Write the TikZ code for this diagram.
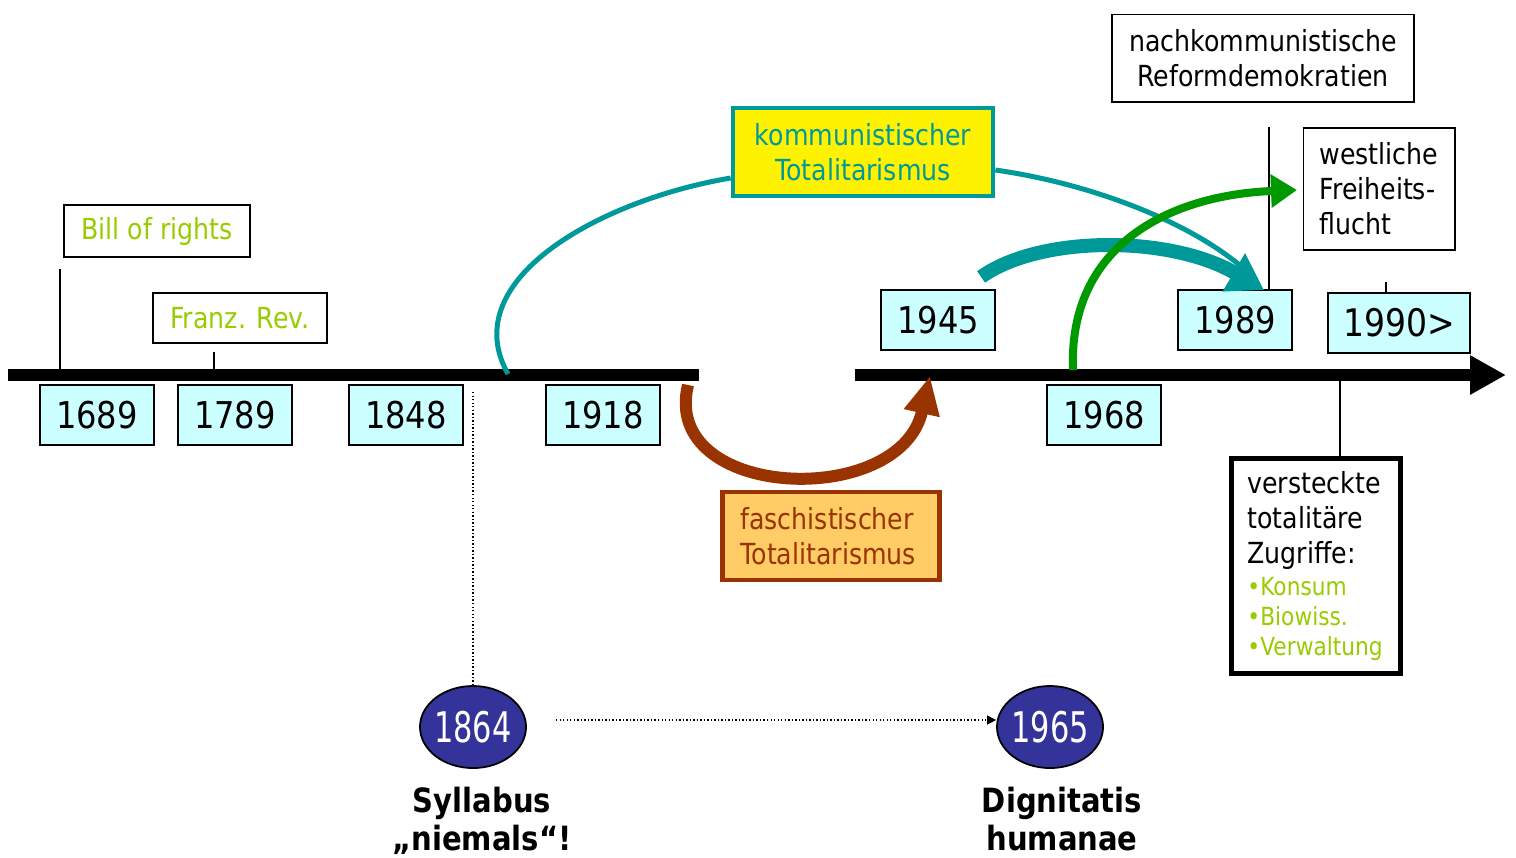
\documentclass[tikz,border=0pt]{standalone}
\usepackage{fontspec}
\setmainfont{DejaVu Sans}[FakeStretch=0.87]
\newfontfamily\narrowfont{DejaVu Sans}[FakeStretch=0.72]
\usepackage{tikz}
\usetikzlibrary{arrows.meta,shapes.geometric}

\definecolor{yearcyan}{HTML}{CCFFFF}
\definecolor{labelgreen}{HTML}{99CC00}
\definecolor{komteal}{HTML}{009999}
\definecolor{rust}{HTML}{993300}
\definecolor{apricot}{HTML}{FFCC66}
\definecolor{leafgreen}{HTML}{009900}
\definecolor{navyblue}{HTML}{333399}

\tikzset{
  axis/.style={line width=0.115cm},
  yearbox/.style={draw, line width=0.6pt, fill=yearcyan, minimum width=1.14cm,
    minimum height=0.6cm, inner sep=0pt, font=\fontsize{10.5}{12}\selectfont},
  labelbox/.style={draw, line width=0.55pt, fill=white, inner sep=0pt,
    align=center, font=\fontsize{8.25}{9.96}\selectfont},
  yearcirc/.style={ellipse, draw, line width=0.5pt, fill=navyblue, text=white,
    minimum width=1.06cm, minimum height=0.82cm, inner sep=0pt,
    font=\narrowfont\fontsize{12}{13}\selectfont},
  caption/.style={align=center, font=\fontsize{9.5}{10.8}\selectfont\bfseries},
  tick/.style={line width=0.5pt},
  finedots/.style={line width=0.4pt, dash pattern=on 0.4pt off 0.6pt}
}

\begin{document}
\begin{tikzpicture}[x=0.01cm, y=-0.01cm]
    \useasboundingbox (0,0) rectangle (1516,857);

    % Time axis
    \draw[axis] (8,375) -- (699,375);
    \draw[axis, -{Triangle[length=0.36cm, width=0.37cm]}] (855,375) -- (1506,375);

    % Years below the axis
    \node[yearbox] (y1689) at (97,415) {1689};
    \node[yearbox] (y1789) at (235,415) {1789};
    \node[yearbox] (y1848) at (406,415) {1848};
    \node[yearbox] (y1918) at (603,415) {1918};
    \node[yearbox] (y1968) at (1104,415) {1968};

    % Years above the axis
    \node[yearbox] (y1945) at (938,320) {1945};
    \node[yearbox] (y1989) at (1235,320) {1989};
    \node[yearbox, minimum width=1.42cm, font=\fontsize{10.8}{12}\selectfont] (y1990) at (1399,323) {1990>};

    % Early labels
    \node[labelbox, text=labelgreen, minimum width=1.86cm, minimum height=0.52cm] (bill) at (157,231) {Bill of rights};
    \node[labelbox, text=labelgreen, minimum width=1.74cm, minimum height=0.50cm] (franz) at (240,318) {Franz. Rev.};
    \coordinate (billtick) at (60,269);
    \draw[tick] (billtick) -- (60,370);
    \coordinate (franztick) at (214,352);
    \draw[tick] (franztick) -- (214,370);

    % Late labels
    \node[labelbox, minimum width=3.01cm, minimum height=0.87cm] (nachk) at (1263,58) {nachkommunistische\\Reformdemokratien};
    \coordinate (nachktick) at (1269,127);
    \draw[tick] (nachktick) -- (nachktick |- y1989.north);

    \node[labelbox, align=left, text width=1.19cm, inner xsep=0.16cm, minimum height=1.22cm] (west) at (1379,189) {westliche\\Freiheits-\\flucht};
    \coordinate (westtick) at (1386,282);
    \draw[tick] (westtick) -- (westtick |- y1990.north);

    \node[labelbox, align=left, draw, line width=1.4pt, text width=1.37cm, inner xsep=0.16cm, minimum height=2.14cm] (hidden) at (1316,566)
      {versteckte\\totalitäre\\Zugriffe:\\[-0.85pt]{\color{labelgreen}\fontsize{7.1}{8.5}\selectfont •Konsum}\\[-1.55pt]{\color{labelgreen}\fontsize{7.1}{8.5}\selectfont •Biowiss.}\\[-1.55pt]{\color{labelgreen}\fontsize{7.1}{8.5}\selectfont •Verwaltung}};
    \coordinate (hiddentick) at (1340,381);
    \draw[tick] (hiddentick) -- (hiddentick |- hidden.north);

    % Totalitarian boxes
    \node[labelbox, draw=komteal, line width=1.3pt, fill=yellow, text=komteal, minimum width=2.6cm, minimum height=0.88cm] (kom) at (863,152) {kommunistischer\\Totalitarismus};
    \node[labelbox, align=left, draw=rust, line width=1.2pt, fill=apricot, text=rust, text width=1.81cm, inner xsep=0.18cm, minimum height=0.88cm] (fasch) at (831,536) {faschistischer\\Totalitarismus};

    % Curved arrows
    \coordinate (komstart) at (508,374);
    \coordinate (komend) at (1256,280);
    \draw[komteal, line width=0.05cm] (komstart) .. controls (455,280) and (600,200) .. (kom.west |- 0,178);
    \draw[komteal, line width=0.05cm] (kom.east |- 0,170) .. controls (1100,185) and (1205,228) .. (komend);
    \draw[komteal, line width=0.14cm, -{Triangle[length=0.35cm, width=0.42cm]}] (y1945.north east) ++(-15,-12) .. controls (1040,235) and (1170,235) .. (1264,290);
    \draw[leafgreen, line width=0.08cm, -{Triangle[length=0.26cm, width=0.32cm]}] (1073,370) .. controls (1068,245) and (1170,195) .. (1297,190);
    \draw[rust, line width=0.12cm, -{Triangle[length=0.38cm, width=0.34cm]}] (688,385) .. controls (660,500) and (900,510) .. (930,376);

    % Church documents
    \node[yearcirc] (c1864) at (473,727) {\makebox[0pt]{1864}};
    \node[yearcirc] (c1965) at (1050,727) {\makebox[0pt]{1965}};
    \node[caption] (syll) at (482,821) {Syllabus\\„niemals“!};
    \node[caption] (dign) at (1062,819) {Dignitatis\\humanae};

    \coordinate (dotstart) at (473,392);
    \draw[finedots] (dotstart) -- (c1864.north);
    \coordinate (dotarrow) at (556,720);
    \draw[finedots, -{Triangle[length=0.09cm, width=0.09cm]}] (dotarrow) -- (dotarrow -| c1965.west);
\end{tikzpicture}
\end{document}
